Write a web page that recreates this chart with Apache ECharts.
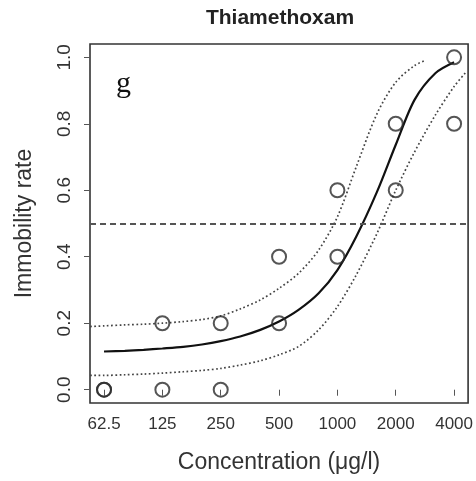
<!DOCTYPE html>
<html>
<head>
<meta charset="utf-8">
<script src="https://cdn.jsdelivr.net/npm/echarts@6/dist/echarts.min.js"></script>
<style>
html, body { margin: 0; padding: 0; background: #fff; }
#chart { width: 476px; height: 481px; }
</style>
</head>
<body>
<div id="chart"></div>
<script>
// tick labels
var concTicks = [62.5, 125, 250, 500, 1000, 2000, 4000];
var rateTicks = [0, 0.2, 0.4, 0.6, 0.8, 1.0];

// observed immobility
var obsConc = [62.5, 62.5, 125, 125, 250, 250, 500, 500, 1000, 1000, 2000, 2000, 4000, 4000];
var obsRate = [0, 0, 0.2, 0, 0.2, 0, 0.4, 0.2, 0.6, 0.4, 0.8, 0.6, 1.0, 0.8];

// fitted curve
var fitConc = [62.5, 80, 100, 125, 160, 200, 250, 315, 400, 500, 630, 800, 1000, 1250, 1600, 2000, 2500, 3200, 4000];
var fitRate = [0.115, 0.117, 0.12, 0.124, 0.129, 0.136, 0.146, 0.16, 0.18, 0.205, 0.24, 0.29, 0.36, 0.46, 0.595, 0.737, 0.872, 0.952, 0.985];

// confidence band
var upperConc = [53, 62.5, 80, 100, 125, 160, 200, 250, 315, 400, 500, 630, 800, 1000, 1250, 1600, 2000, 2500, 2850];
var upperRate = [0.19, 0.192, 0.195, 0.197, 0.2, 0.205, 0.211, 0.222, 0.243, 0.27, 0.305, 0.35, 0.42, 0.52, 0.67, 0.83, 0.925, 0.975, 0.991];
var lowerConc = [53, 62.5, 80, 100, 125, 160, 200, 250, 315, 400, 500, 630, 800, 1000, 1250, 1600, 2000, 2500, 3200, 4000, 4600];
var lowerRate = [0.043, 0.043, 0.045, 0.047, 0.05, 0.054, 0.058, 0.064, 0.074, 0.087, 0.105, 0.13, 0.18, 0.25, 0.345, 0.47, 0.6, 0.715, 0.826, 0.912, 0.955];

var halfLine = 0.5;

function pairs(xs, ys) {
    return xs.map(function (x, i) { return [x, ys[i]]; });
}

var myChart = echarts.init(document.getElementById('chart'));

var dotted = { color: '#444', width: 1.7, type: [1.7, 2.5] };

var option = {
    backgroundColor: '#fff',
    animation: false,
    title: {
        text: 'Thiamethoxam',
        left: 280,
        top: 8,
        padding: 0,
        textAlign: 'center',
        textStyle: { fontFamily: 'Liberation Sans', fontSize: 21, fontWeight: 'bold', color: '#222' }
    },
    graphic: [{
        type: 'text',
        x: 116,
        y: 84,
        style: {
            text: 'g',
            font: '30px "Liberation Serif"',
            fill: '#111',
            textVerticalAlign: 'middle'
        }
    }],
    grid: {
        left: 90, right: 7, top: 44, bottom: 78,
        show: true,
        borderColor: '#333',
        borderWidth: 1.6
    },
    xAxis: {
        type: 'log',
        logBase: 2,
        min: 52.9,
        max: 4724,
        name: 'Concentration (μg/l)',
        nameLocation: 'middle',
        nameGap: 48,
        nameTextStyle: { fontFamily: 'Liberation Sans', fontSize: 23, color: '#333' },
        axisLine: { show: false },
        axisTick: { show: true, length: 6, customValues: concTicks, lineStyle: { color: '#555', width: 1 } },
        axisLabel: {
            customValues: concTicks,
            margin: 13,
            fontFamily: 'Liberation Sans',
            fontSize: 17,
            color: '#333',
            formatter: function (v) { return String(v); }
        },
        splitLine: { show: false }
    },
    yAxis: {
        type: 'value',
        min: -0.04,
        max: 1.04,
        name: 'Immobility rate',
        nameLocation: 'middle',
        nameGap: 54,
        nameTextStyle: { fontFamily: 'Liberation Sans', fontSize: 23, color: '#333' },
        axisLine: { show: false },
        axisTick: { show: true, length: 6, customValues: rateTicks, lineStyle: { color: '#555', width: 1 } },
        axisLabel: {
            customValues: rateTicks,
            rotate: 90,
            margin: 16,
            fontFamily: 'Liberation Sans',
            fontSize: 19,
            color: '#333',
            formatter: function (v) { return v.toFixed(1); }
        },
        splitLine: { show: false }
    },
    series: [{
        name: 'upper',
        type: 'line',
        data: pairs(upperConc, upperRate),
        showSymbol: false,
        smooth: 0.3,
        lineStyle: dotted
    }, {
        name: 'lower',
        type: 'line',
        data: pairs(lowerConc, lowerRate),
        showSymbol: false,
        smooth: 0.3,
        lineStyle: dotted
    }, {
        name: 'fit',
        type: 'line',
        data: pairs(fitConc, fitRate),
        showSymbol: false,
        smooth: 0.3,
        lineStyle: { color: '#111', width: 2.2 },
        markLine: {
            silent: true,
            symbol: 'none',
            label: { show: false },
            lineStyle: { color: '#555', width: 2, type: [6, 4] },
            data: [{ yAxis: halfLine }]
        }
    }, {
        name: 'observed',
        type: 'scatter',
        data: pairs(obsConc, obsRate),
        symbol: 'circle',
        symbolSize: 14,
        itemStyle: { color: 'rgba(255,255,255,0)', borderColor: '#2a2a2a', borderWidth: 2 },
        z: 5
    }]
};

myChart.setOption(option);
</script>
</body>
</html>
